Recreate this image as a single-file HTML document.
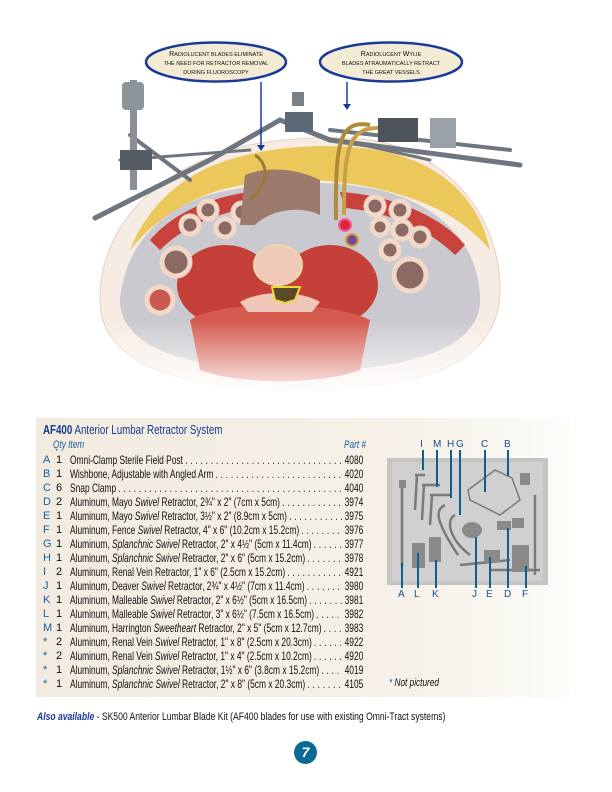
<!DOCTYPE html>
<html><head><meta charset="utf-8"><style>
html,body{margin:0;padding:0;background:#fff;}
body{width:612px;height:792px;position:relative;overflow:hidden;font-family:"Liberation Sans",sans-serif;}
.abs{position:absolute;}
#panel{left:36px;top:418px;width:534px;height:279px;background:linear-gradient(90deg,#f1ebe0 0%,#f6f1e8 70%,#fdfcf9 100%);}
.t{position:absolute;font-size:10.5px;color:#111;white-space:nowrap;}
.row{position:absolute;left:0;height:14px;width:612px;font-size:12px;line-height:14px;color:#111;}
.row .l{position:absolute;left:43px;color:#1a5fa3;font-size:11px;}
.row .q{position:absolute;left:56px;font-size:11px;}
.row .i{position:absolute;left:70px;width:419px;display:flex;white-space:nowrap;transform:scaleX(0.7);transform-origin:0 0;}
.row .i .d{flex:1;overflow:hidden;letter-spacing:4px;margin:0 3px;}
.lab{position:absolute;font-size:10px;color:#1a4d8c;}
.sx{display:inline-block;transform:scaleX(0.75);transform-origin:0 0;}
</style></head><body>

<svg class="abs" style="left:0;top:0" width="612" height="410" viewBox="0 0 612 410">
  <defs>
    <linearGradient id="fade" x1="0" y1="0" x2="0" y2="1">
      <stop offset="0" stop-color="#fff" stop-opacity="0"/>
      <stop offset="1" stop-color="#fff" stop-opacity="0.9"/>
    </linearGradient>
  </defs>
  <path d="M100,300 C100,230 150,175 230,150 C270,138 330,135 370,140 C440,150 500,210 500,290 C500,360 430,390 300,390 C170,390 100,360 100,300Z" fill="#f7ece4" stroke="#e8cfc4"/>
  <path d="M130,250 C150,200 190,170 235,158 C280,145 335,143 375,150 C440,160 480,200 490,250 C465,220 430,200 370,187 C320,177 270,177 220,190 C180,202 150,225 130,250Z" fill="#ecc85a"/>
  <path d="M120,300 C125,240 170,200 230,190 C280,180 330,180 380,190 C440,205 480,245 480,300 C480,345 420,370 300,372 C180,370 120,345 120,300Z" fill="#c9c9cf"/>
  <path d="M150,240 C180,205 230,192 270,190 L268,205 C230,210 190,220 160,250Z" fill="#c8413a"/>
  <path d="M340,192 C390,195 440,215 465,245 L455,255 C430,230 390,212 345,208Z" fill="#c8413a"/>
  <ellipse cx="225" cy="285" rx="48" ry="40" fill="#c6403a"/>
  <ellipse cx="330" cy="285" rx="48" ry="40" fill="#c6403a"/>
  <path d="M190,320 C220,300 330,300 370,320 L360,370 C320,385 240,385 200,370Z" fill="#d55a4e"/>
  <ellipse cx="278" cy="265" rx="24" ry="20" fill="#f0c9bb" stroke="#e8d9a5" stroke-width="2"/>
  <path d="M240,302 C260,290 300,290 320,302 L312,312 L248,312Z" fill="#efc7b8"/>
  <path d="M272,287 L300,287 L295,300 L285,303 L275,300Z" fill="#5a4a2a" stroke="#e8d83a" stroke-width="2"/>
  <g fill="#8a6a62" stroke="#f2d8c8" stroke-width="5">
    <circle cx="208" cy="210" r="9"/><circle cx="190" cy="225" r="9"/><circle cx="225" cy="228" r="9"/>
    <circle cx="242" cy="212" r="9"/><circle cx="375" cy="206" r="9"/><circle cx="400" cy="210" r="9"/>
    <circle cx="380" cy="227" r="8"/><circle cx="402" cy="230" r="9"/><circle cx="420" cy="237" r="9"/>
    <circle cx="390" cy="250" r="9"/><circle cx="176" cy="262" r="14"/><circle cx="410" cy="275" r="16"/>
    <circle cx="160" cy="300" r="13" fill="#c85a50"/>
  </g>
  <path d="M245,175 C270,165 300,170 320,180 L320,215 C300,205 270,210 255,225 L240,225Z" fill="#9c7a6c"/>
  <circle cx="345" cy="225" r="6" fill="#d42a3a" stroke="#f59" stroke-width="2"/>
  <circle cx="352" cy="240" r="6" fill="#7a4a9a" stroke="#d8a03a" stroke-width="2"/>
  <rect x="100" y="320" width="400" height="72" fill="url(#fade)"/>
  <g stroke="#6f7680" stroke-linecap="round" fill="none">
    <path d="M95,218 L210,160 L280,120 L330,140 L520,165" stroke-width="5"/>
    <path d="M120,160 L250,150" stroke-width="3"/>
    <path d="M130,135 L190,180" stroke-width="4"/>
    <path d="M330,130 L510,150" stroke-width="4"/>
    <path d="M340,140 L430,160" stroke-width="3"/>
  </g>
  <rect x="130" y="80" width="7" height="110" fill="#8b9098"/>
  <rect x="122" y="82" width="22" height="28" rx="4" fill="#8e949c"/>
  <rect x="120" y="150" width="32" height="20" fill="#555c64"/>
  <rect x="285" y="112" width="28" height="20" fill="#5c6a78"/>
  <rect x="292" y="92" width="12" height="14" fill="#7a8088"/>
  <rect x="378" y="118" width="40" height="24" fill="#4e545c"/>
  <rect x="430" y="118" width="26" height="30" fill="#9aa0a8"/>
  <path d="M255,155 C270,165 268,185 250,200" stroke="#9a7a38" stroke-width="3" fill="none"/>
  <path d="M370,125 C340,120 335,140 336,220" stroke="#b08a3a" stroke-width="4" fill="none"/>
  <path d="M378,128 C348,128 344,150 344,215" stroke="#c9a04a" stroke-width="4" fill="none"/>
  <line x1="261" y1="82" x2="261" y2="148" stroke="#1a3a9a" stroke-width="1.5"/>
  <path d="M257,145 L265,145 L261,151Z" fill="#1a3a9a"/>
  <line x1="347" y1="82" x2="347" y2="106" stroke="#1a3a9a" stroke-width="1.5"/>
  <path d="M343,104 L351,104 L347,110Z" fill="#1a3a9a"/>
  <ellipse cx="216" cy="62" rx="70" ry="19.5" fill="#f3ebd4" stroke="#1a3a9a" stroke-width="2.5"/>
  <ellipse cx="391" cy="62" rx="71" ry="19.5" fill="#f3ebd4" stroke="#1a3a9a" stroke-width="2.5"/>
  <g font-family="Liberation Sans,sans-serif" font-size="7" fill="#111" text-anchor="middle">
    <text x="216" y="56">R<tspan font-size="5.5">ADIOLUCENT BLADES ELIMINATE</tspan></text>
    <text x="216" y="65" font-size="5.5">THE NEED FOR RETRACTOR REMOVAL</text>
    <text x="216" y="74" font-size="5.5">DURING FLUOROSCOPY</text>
    <text x="391" y="56">R<tspan font-size="5.5">ADIOLUCENT </tspan>W<tspan font-size="5.5">YLIE</tspan></text>
    <text x="391" y="65" font-size="5.5">BLADES ATRAUMATICALLY RETRACT</text>
    <text x="391" y="74" font-size="5.5">THE GREAT VESSELS</text>
  </g>
</svg>

<div id="panel" class="abs"></div>
<div class="t" style="left:43px;top:422px;font-size:13px;color:#1a3a8a;"><span class="sx"><b>AF400</b> Anterior Lumbar Retractor System</span></div>
<div class="t" style="left:53px;top:439px;font-style:italic;color:#1a5fa3;font-size:11px;"><span class="sx">Qty Item</span></div>
<div class="t" style="left:344px;top:439px;font-style:italic;color:#1a5fa3;font-size:11px;"><span class="sx">Part #</span></div>

<div class="row" style="top:453px"><span class="l">A</span><span class="q">1</span><span class="i"><span>Omni-Clamp Sterile Field Post</span><span class="d">..........................................................................</span><span>4080</span></span></div>
<div class="row" style="top:467px"><span class="l">B</span><span class="q">1</span><span class="i"><span>Wishbone, Adjustable with Angled Arm</span><span class="d">..........................................................................</span><span>4020</span></span></div>
<div class="row" style="top:481px"><span class="l">C</span><span class="q">6</span><span class="i"><span>Snap Clamp</span><span class="d">..........................................................................................</span><span>4040</span></span></div>
<div class="row" style="top:495px"><span class="l">D</span><span class="q">2</span><span class="i"><span>Aluminum, Mayo <i>Swivel</i> Retractor, 2¾" x 2" (7cm x 5cm)</span><span class="d">......................................</span><span>3974</span></span></div>
<div class="row" style="top:509px"><span class="l">E</span><span class="q">1</span><span class="i"><span>Aluminum, Mayo <i>Swivel</i> Retractor, 3½" x 2" (8.9cm x 5cm)</span><span class="d">......................................</span><span>3975</span></span></div>
<div class="row" style="top:523px"><span class="l">F</span><span class="q">1</span><span class="i"><span>Aluminum, Fence <i>Swivel</i> Retractor, 4" x 6" (10.2cm x 15.2cm)</span><span class="d">......................................</span><span>3976</span></span></div>
<div class="row" style="top:537px"><span class="l">G</span><span class="q">1</span><span class="i"><span>Aluminum, <i>Splanchnic Swivel</i> Retractor, 2" x 4½" (5cm x 11.4cm)</span><span class="d">......................................</span><span>3977</span></span></div>
<div class="row" style="top:551px"><span class="l">H</span><span class="q">1</span><span class="i"><span>Aluminum, <i>Splanchnic Swivel</i> Retractor, 2" x 6" (5cm x 15.2cm)</span><span class="d">......................................</span><span>3978</span></span></div>
<div class="row" style="top:565px"><span class="l">I</span><span class="q">2</span><span class="i"><span>Aluminum, Renal Vein Retractor, 1" x 6" (2.5cm x 15.2cm)</span><span class="d">......................................</span><span>4921</span></span></div>
<div class="row" style="top:579px"><span class="l">J</span><span class="q">1</span><span class="i"><span>Aluminum, Deaver <i>Swivel</i> Retractor, 2¾" x 4½" (7cm x 11.4cm)</span><span class="d">......................................</span><span>3980</span></span></div>
<div class="row" style="top:593px"><span class="l">K</span><span class="q">1</span><span class="i"><span>Aluminum, Malleable <i>Swivel</i> Retractor, 2" x 6½" (5cm x 16.5cm)</span><span class="d">......................................</span><span>3981</span></span></div>
<div class="row" style="top:607px"><span class="l">L</span><span class="q">1</span><span class="i"><span>Aluminum, Malleable <i>Swivel</i> Retractor, 3" x 6½" (7.5cm x 16.5cm)</span><span class="d">......................................</span><span>3982</span></span></div>
<div class="row" style="top:621px"><span class="l">M</span><span class="q">1</span><span class="i"><span>Aluminum, Harrington <i>Sweetheart</i> Retractor, 2" x 5" (5cm x 12.7cm)</span><span class="d">......................................</span><span>3983</span></span></div>
<div class="row" style="top:635px"><span class="l">*</span><span class="q">2</span><span class="i"><span>Aluminum, Renal Vein <i>Swivel</i> Retractor, 1" x 8" (2.5cm x 20.3cm)</span><span class="d">......................................</span><span>4922</span></span></div>
<div class="row" style="top:649px"><span class="l">*</span><span class="q">2</span><span class="i"><span>Aluminum, Renal Vein <i>Swivel</i> Retractor, 1" x 4" (2.5cm x 10.2cm)</span><span class="d">......................................</span><span>4920</span></span></div>
<div class="row" style="top:663px"><span class="l">*</span><span class="q">1</span><span class="i"><span>Aluminum, <i>Splanchnic Swivel</i> Retractor, 1½" x 6" (3.8cm x 15.2cm)</span><span class="d">......................................</span><span>4019</span></span></div>
<div class="row" style="top:677px"><span class="l">*</span><span class="q">1</span><span class="i"><span>Aluminum, <i>Splanchnic Swivel</i> Retractor, 2" x 8" (5cm x 20.3cm)</span><span class="d">......................................</span><span>4105</span></span></div>
<div class="t" style="left:389px;top:677px;font-style:italic;font-size:11px;"><span class="sx"><span style="color:#1a5fa3">*</span> Not pictured</span></div>

<svg class="abs" style="left:380px;top:435px" width="180" height="170" viewBox="380 435 180 170">
  <rect x="387" y="458" width="161" height="127" fill="#c4c4c4"/>
  <rect x="392" y="462" width="151" height="119" fill="#d0d0d0"/>
  <g stroke="#7a7a7a" stroke-width="2.5" fill="none">
    <line x1="402" y1="487" x2="402" y2="567"/>
    <path d="M415,475 L425,475 M417,475 L415,510"/>
    <path d="M422,485 L440,485 M424,485 L422,520"/>
    <path d="M430,495 L450,495 M432,495 L430,525"/>
    <path d="M445,505 C435,510 435,520 458,555"/>
    <path d="M455,515 C445,520 450,540 470,555"/>
    <path d="M468,490 L495,470 L512,478 L520,500 L500,515 L470,500Z" stroke-width="1.5"/>
    <line x1="535" y1="495" x2="535" y2="575"/>
    <line x1="460" y1="565" x2="510" y2="560"/>
    <line x1="490" y1="570" x2="540" y2="570"/>
  </g>
  <g fill="#8a8a8a">
    <rect x="399" y="480" width="7" height="8"/>
    <rect x="412" y="543" width="13" height="25"/>
    <rect x="429" y="537" width="12" height="25"/>
    <ellipse cx="472" cy="530" rx="10" ry="8"/>
    <rect x="484" y="550" width="16" height="12"/>
    <rect x="497" y="521" width="14" height="9"/>
    <rect x="512" y="518" width="12" height="10"/>
    <rect x="512" y="545" width="17" height="27"/>
    <rect x="520" y="473" width="10" height="12"/>
  </g>
  <g stroke="#0d5f8f" stroke-width="2">
    <line x1="423" y1="450" x2="423" y2="470"/><line x1="437" y1="450" x2="437" y2="487"/>
    <line x1="451" y1="450" x2="451" y2="498"/><line x1="460" y1="450" x2="460" y2="515"/>
    <line x1="485" y1="450" x2="485" y2="492"/><line x1="508" y1="450" x2="508" y2="476"/>
    <line x1="402" y1="563" x2="402" y2="588"/><line x1="418" y1="553" x2="418" y2="588"/>
    <line x1="436" y1="560" x2="436" y2="588"/><line x1="476" y1="537" x2="476" y2="588"/>
    <line x1="490" y1="557" x2="490" y2="588"/><line x1="508" y1="528" x2="508" y2="588"/>
    <line x1="526" y1="566" x2="526" y2="588"/>
  </g>
</svg>
<div class="lab" style="left:420px;top:439px">I</div>
<div class="lab" style="left:433px;top:439px">M</div>
<div class="lab" style="left:447px;top:439px">H</div>
<div class="lab" style="left:456px;top:439px">G</div>
<div class="lab" style="left:481px;top:439px">C</div>
<div class="lab" style="left:504px;top:439px">B</div>
<div class="lab" style="left:398px;top:589px">A</div>
<div class="lab" style="left:414px;top:589px">L</div>
<div class="lab" style="left:432px;top:589px">K</div>
<div class="lab" style="left:472px;top:589px">J</div>
<div class="lab" style="left:486px;top:589px">E</div>
<div class="lab" style="left:504px;top:589px">D</div>
<div class="lab" style="left:522px;top:589px">F</div>

<div class="t" style="left:37px;top:711px;font-size:11px;"><span class="sx" style="transform:scaleX(0.78)"><i style="color:#1a3a9a;font-weight:bold">Also available</i> - SK500 Anterior Lumbar Blade Kit (AF400 blades for use with existing Omni-Tract systems)</span></div>

<div class="abs" style="left:294px;top:741px;width:23px;height:23px;border-radius:50%;background:#0b6a93;color:#fff;font:bold italic 14px 'Liberation Sans',sans-serif;text-align:center;line-height:23px;">7</div>
</body></html>
